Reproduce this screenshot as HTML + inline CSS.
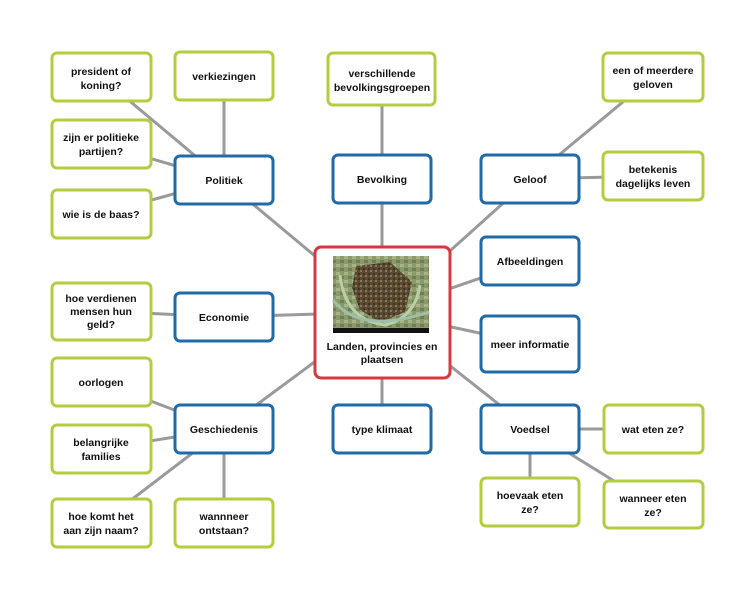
<!DOCTYPE html>
<html><head><meta charset="utf-8"><style>
html,body{margin:0;padding:0;background:#fff;}
svg{display:block;}
text{font-family:"Liberation Sans",sans-serif;font-weight:bold;font-size:10.5px;fill:#111;text-anchor:middle;}
.g{fill:#fff;stroke:#b3cd3d;stroke-width:3;}
.b{fill:#fff;stroke:#1f6aa8;stroke-width:3;}
line{stroke:#9a9a9a;stroke-width:3;}
</style></head><body>
<svg width="755" height="599" viewBox="0 0 755 599">
<defs>
<pattern id="m" width="8" height="8" patternUnits="userSpaceOnUse">
<rect width="8" height="8" fill="#8a9a6a"/>
<rect x="0" y="0" width="4" height="3" fill="#a8b488"/>
<rect x="4" y="4" width="4" height="3" fill="#6f7f55"/>
</pattern>
<pattern id="t" width="5" height="5" patternUnits="userSpaceOnUse">
<rect width="5" height="5" fill="#5a4a34"/>
<rect x="0" y="0" width="2" height="2" fill="#8c7650"/>
<rect x="3" y="3" width="2" height="2" fill="#3c3526"/>
</pattern>
</defs>
<line x1="224" y1="180" x2="382" y2="312"/>
<line x1="224" y1="76" x2="224" y2="180"/>
<line x1="101" y1="77" x2="224" y2="180"/>
<line x1="101" y1="144" x2="224" y2="180"/>
<line x1="101" y1="214" x2="224" y2="180"/>
<line x1="382" y1="79" x2="382" y2="312"/>
<line x1="530" y1="179" x2="382" y2="312"/>
<line x1="653" y1="77" x2="530" y2="179"/>
<line x1="653" y1="176" x2="530" y2="179"/>
<line x1="530" y1="261" x2="382" y2="312"/>
<line x1="530" y1="344" x2="382" y2="312"/>
<line x1="530" y1="429" x2="382" y2="312"/>
<line x1="224" y1="317" x2="382" y2="312"/>
<line x1="101" y1="311" x2="224" y2="317"/>
<line x1="224" y1="429" x2="382" y2="312"/>
<line x1="101" y1="382" x2="224" y2="429"/>
<line x1="101" y1="449" x2="224" y2="429"/>
<line x1="101" y1="523" x2="224" y2="429"/>
<line x1="224" y1="523" x2="224" y2="429"/>
<line x1="382" y1="429" x2="382" y2="312"/>
<line x1="653" y1="429" x2="530" y2="429"/>
<line x1="530" y1="502" x2="530" y2="429"/>
<line x1="653" y1="505" x2="530" y2="429"/>
<rect class="g" x="52" y="53" width="99" height="48" rx="5"/>
<text x="101" y="75">president of</text><text x="101" y="89">koning?</text>
<rect class="g" x="175" y="52" width="98" height="48" rx="5"/>
<text x="224" y="80">verkiezingen</text>
<rect class="g" x="52" y="120" width="99" height="48" rx="5"/>
<text x="101" y="141">zijn er politieke</text><text x="101" y="155">partijen?</text>
<rect class="g" x="52" y="190" width="99" height="48" rx="5"/>
<text x="101" y="218">wie is de baas?</text>
<rect class="g" x="328" y="53" width="107" height="52" rx="5"/>
<text x="382" y="77">verschillende</text><text x="382" y="91">bevolkingsgroepen</text>
<rect class="g" x="603" y="53" width="100" height="48" rx="5"/>
<text x="653" y="74">een of meerdere</text><text x="653" y="88">geloven</text>
<rect class="g" x="603" y="152" width="100" height="48" rx="5"/>
<text x="653" y="173">betekenis</text><text x="653" y="187">dagelijks leven</text>
<rect class="g" x="52" y="283" width="99" height="57" rx="5"/>
<text x="101" y="302">hoe verdienen</text><text x="101" y="315">mensen hun</text><text x="101" y="328">geld?</text>
<rect class="g" x="52" y="358" width="99" height="48" rx="5"/>
<text x="101" y="386">oorlogen</text>
<rect class="g" x="52" y="425" width="99" height="48" rx="5"/>
<text x="101" y="446">belangrijke</text><text x="101" y="460">families</text>
<rect class="g" x="52" y="499" width="99" height="48" rx="5"/>
<text x="101" y="520">hoe komt het</text><text x="101" y="534">aan zijn naam?</text>
<rect class="g" x="175" y="499" width="98" height="48" rx="5"/>
<text x="224" y="520">wannneer</text><text x="224" y="534">ontstaan?</text>
<rect class="g" x="604" y="405" width="99" height="48" rx="5"/>
<text x="653" y="433">wat eten ze?</text>
<rect class="g" x="481" y="478" width="98" height="48" rx="5"/>
<text x="530" y="499">hoevaak eten</text><text x="530" y="513">ze?</text>
<rect class="g" x="604" y="481" width="99" height="47" rx="5"/>
<text x="653" y="502">wanneer eten</text><text x="653" y="516">ze?</text>
<rect class="b" x="175" y="156" width="98" height="48" rx="5"/>
<text x="224" y="184">Politiek</text>
<rect class="b" x="333" y="155" width="98" height="48" rx="5"/>
<text x="382" y="183">Bevolking</text>
<rect class="b" x="481" y="155" width="98" height="48" rx="5"/>
<text x="530" y="183">Geloof</text>
<rect class="b" x="481" y="237" width="98" height="48" rx="5"/>
<text x="530" y="265">Afbeeldingen</text>
<rect class="b" x="481" y="316" width="98" height="56" rx="5"/>
<text x="530" y="348">meer informatie</text>
<rect class="b" x="175" y="293" width="98" height="48" rx="5"/>
<text x="224" y="321">Economie</text>
<rect class="b" x="175" y="405" width="98" height="48" rx="5"/>
<text x="224" y="433">Geschiedenis</text>
<rect class="b" x="333" y="405" width="98" height="48" rx="5"/>
<text x="382" y="433">type klimaat</text>
<rect class="b" x="481" y="405" width="98" height="48" rx="5"/>
<text x="530" y="433">Voedsel</text>
<rect x="315" y="247" width="135" height="131" rx="6" fill="#fff" stroke="#d43a40" stroke-width="3"/>
<rect x="333" y="256" width="96" height="77" fill="url(#m)"/>
<path d="M356 266 L390 262 L412 282 L405 312 L380 322 L360 310 L352 288 Z" fill="url(#t)"/>
<path d="M340 275 Q345 320 385 325 Q415 318 420 285" stroke="#b8cfa8" stroke-width="3" fill="none"/>
<path d="M333 300 Q360 335 429 312" stroke="#9fc0a8" stroke-width="3" fill="none"/>
<rect x="333" y="328" width="96" height="5" fill="#111"/>
<text x="382" y="350">Landen, provincies en</text>
<text x="382" y="363">plaatsen</text>
</svg>
</body></html>
